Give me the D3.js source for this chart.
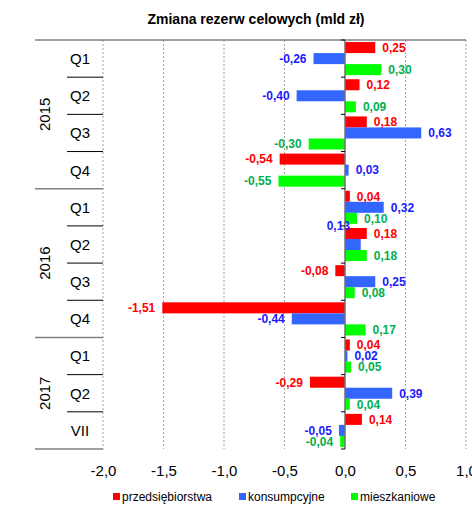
<!DOCTYPE html>
<html>
<head>
<meta charset="utf-8">
<script src="https://cdn.jsdelivr.net/npm/d3@7"></script>
<style>
  body { margin: 0; background: #fff; }
  svg { font-family: "Liberation Sans", Arial, sans-serif; }
</style>
</head>
<body>
<svg id="chart"></svg>
<script>
var periods  = ["Q1","Q2","Q3","Q4","Q1","Q2","Q3","Q4","Q1","Q2","VII"];
var years    = ["2015","2016","2017"];
var yearSpan = [4, 4, 3];
var series   = ["przedsiębiorstwa","konsumpcyjne","mieszkaniowe"];
var przedsiebiorstwa = [0.25, 0.12, 0.18, -0.54, 0.04, 0.18, -0.08, -1.51, 0.04, -0.29, 0.14];
var konsumpcyjne     = [-0.26, -0.40, 0.63, 0.03, 0.32, 0.13, 0.25, -0.44, 0.02, 0.39, -0.05];
var mieszkaniowe     = [0.30, 0.09, -0.30, -0.55, 0.10, 0.18, 0.08, 0.17, 0.05, 0.04, -0.04];
var xTicks = [-2, -1.5, -1, -0.5, 0, 0.5, 1];

var barColors   = ["#ff0000", "#3366ff", "#00ff00"];
var labelColors = ["#ff0000", "#1a1aff", "#00b050"];

var W = 472, H = 509;
var pLeft = 103, pRight = 466, pTop = 40, pBottom = 449;

var svg = d3.select("#chart").attr("width", W).attr("height", H);

var x = d3.scaleLinear().domain([-2, 1]).range([pLeft, pRight]);
var y = d3.scaleBand().domain(d3.range(periods.length)).range([pTop, pBottom]).paddingInner(0.11).paddingOuter(0.055);
var ySub = d3.scaleBand().domain(d3.range(series.length)).range([0, y.bandwidth()]);
var step = (pBottom - pTop) / periods.length;
var fmt2 = function(v) { return d3.format(".2f")(v).replace("−", "-").replace(".", ","); };
var fmt1 = function(v) { return d3.format(".1f")(v).replace("−", "-").replace(".", ","); };

// title
svg.append("text")
    .attr("x", 256).attr("y", 24)
    .attr("text-anchor", "middle")
    .style("font-size", "14px").style("font-weight", "bold")
    .text("Zmiana rezerw celowych (mld zł)");

// gridlines
svg.append("g").selectAll("line")
    .data(xTicks.filter(function(d) { return d !== 0; }))
  .enter().append("line")
    .attr("x1", function(d) { return x(d); }).attr("x2", function(d) { return x(d); })
    .attr("y1", pTop).attr("y2", pBottom)
    .attr("stroke", "#a0a0a0").attr("stroke-dasharray", "2,2");

// borders
svg.append("line").attr("x1", 35).attr("x2", pRight).attr("y1", pTop).attr("y2", pTop)
    .attr("stroke", "#808080").attr("stroke-width", 1.5);
svg.append("line").attr("x1", 35).attr("x2", pLeft).attr("y1", pBottom).attr("y2", pBottom)
    .attr("stroke", "#808080").attr("stroke-width", 1.5);

// category separators
var bounds = d3.range(1, periods.length);
var yearBounds = [4, 8];
svg.append("g").selectAll("line")
    .data(bounds)
  .enter().append("line")
    .attr("x1", function(d) { return yearBounds.indexOf(d) >= 0 ? 35 : 67; })
    .attr("x2", pLeft)
    .attr("y1", function(d) { return pTop + d * step; })
    .attr("y2", function(d) { return pTop + d * step; })
    .attr("stroke", function(d) { return yearBounds.indexOf(d) >= 0 ? "#808080" : "#000"; })
    .attr("stroke-width", function(d) { return yearBounds.indexOf(d) >= 0 ? 1.5 : 1; });

// period labels
svg.append("g").selectAll("text")
    .data(periods)
  .enter().append("text")
    .attr("x", 80)
    .attr("y", function(d, i) { return pTop + (i + 0.5) * step; })
    .attr("dy", "0.36em")
    .attr("text-anchor", "middle")
    .style("font-size", "15px")
    .text(function(d) { return d; });

// year labels
var acc = 0;
years.forEach(function(yr, i) {
  var cy = pTop + (acc + yearSpan[i] / 2) * step;
  acc += yearSpan[i];
  svg.append("text")
      .attr("transform", "translate(45," + cy + ") rotate(-90)")
      .attr("dy", "0.36em")
      .attr("text-anchor", "middle")
      .style("font-size", "15px")
      .text(yr);
});

// bars
var values = [przedsiebiorstwa, konsumpcyjne, mieszkaniowe];
var data = [];
periods.forEach(function(p, i) {
  values.forEach(function(arr, s) {
    data.push({ i: i, s: s, v: arr[i] });
  });
});

svg.append("g").selectAll("rect")
    .data(data)
  .enter().append("rect")
    .attr("x", function(d) { return x(Math.min(0, d.v)); })
    .attr("y", function(d) { return y(d.i) + ySub(d.s); })
    .attr("width", function(d) { return Math.abs(x(d.v) - x(0)); })
    .attr("height", ySub.bandwidth())
    .attr("fill", function(d) { return barColors[d.s]; });

// value labels
svg.append("g").selectAll("text")
    .data(data)
  .enter().append("text")
    .attr("x", function(d) {
      if (d.i === 5 && d.s === 1) return x(0) + 5;   // moved label in the original
      return d.v >= 0 ? x(d.v) + 7 : x(d.v) - 7;
    })
    .attr("y", function(d) {
      if (d.i === 5 && d.s === 1) return pTop + 5 * step;
      return y(d.i) + ySub(d.s) + ySub.bandwidth() / 2;
    })
    .attr("dy", "0.36em")
    .attr("text-anchor", function(d) {
      if (d.i === 5 && d.s === 1) return "end";
      return d.v >= 0 ? "start" : "end";
    })
    .attr("fill", function(d) { return labelColors[d.s]; })
    .style("font-size", "12px").style("font-weight", "bold")
    .text(function(d) { return fmt2(d.v); });

// zero axis
svg.append("line").attr("x1", x(0)).attr("x2", x(0)).attr("y1", pTop).attr("y2", pBottom)
    .attr("stroke", "#707070").attr("stroke-width", 1.5);
svg.append("g").selectAll("line")
    .data(d3.range(0, periods.length + 1))
  .enter().append("line")
    .attr("x1", x(0) - 4).attr("x2", x(0))
    .attr("y1", function(d) { return pTop + d * step; })
    .attr("y2", function(d) { return pTop + d * step; })
    .attr("stroke", "#000");

// x axis labels
var xAxis = svg.append("g")
    .attr("transform", "translate(0," + pBottom + ")")
    .call(d3.axisBottom(x).tickValues(xTicks).tickSize(0).tickPadding(16).tickFormat(fmt1));
xAxis.select(".domain").remove();
xAxis.selectAll("text").style("font-size", "15px").attr("fill", "#000")
    .style("font-family", "'Liberation Sans', Arial, sans-serif");

// legend
var legX = [113, 239, 351];
var leg = svg.append("g").selectAll("g")
    .data(series)
  .enter().append("g")
    .attr("transform", function(d, i) { return "translate(" + legX[i] + ",493)"; });
leg.append("rect").attr("width", 7).attr("height", 7)
    .attr("fill", function(d, i) { return barColors[i]; });
leg.append("text").attr("x", 9).attr("y", 7.5)
    .style("font-size", "12px")
    .text(function(d) { return d; });
</script>
</body>
</html>
